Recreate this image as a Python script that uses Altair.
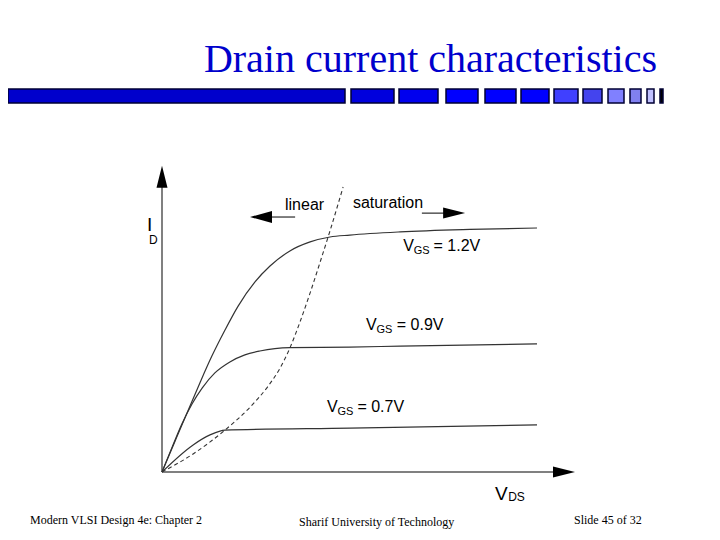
import altair as alt
import pandas as pd

# ---- data (normalized units: V_DS and I_D) ----
vds_12 = [0, 0.035, 0.069, 0.101, 0.133, 0.168, 0.203, 0.248, 0.288, 0.341, 0.395, 0.448, 0.501, 0.635, 0.821, 1.0]
id_12 = [0, 0.127, 0.25, 0.365, 0.475, 0.582, 0.68, 0.779, 0.844, 0.906, 0.943, 0.963, 0.971, 0.984, 0.994, 1.0]
vds_09 = [0, 0.027, 0.053, 0.08, 0.107, 0.141, 0.181, 0.221, 0.261, 0.301, 0.341, 0.501, 0.635, 1.0]
id_09 = [0, 0.102, 0.197, 0.279, 0.344, 0.406, 0.451, 0.48, 0.496, 0.506, 0.51, 0.512, 0.516, 0.525]
vds_07 = [0, 0.083, 0.128, 0.168, 0.501, 1.0]
id_07 = [0, 0.111, 0.152, 0.172, 0.180, 0.193]
vds_sat = [0, 0.083, 0.168, 0.235, 0.283, 0.315, 0.341, 0.368, 0.395, 0.421, 0.448, 0.483]
id_sat = [0, 0.074, 0.172, 0.266, 0.352, 0.426, 0.508, 0.615, 0.734, 0.857, 0.988, 1.168]
curve_names = ["VGS = 1.2V", "VGS = 0.9V", "VGS = 0.7V"]

title_text = "Drain current characteristics"
footer_left = "Modern VLSI Design 4e: Chapter 2"
footer_mid = "Sharif University of Technology"
footer_right = "Slide 45 of 32"

rows = []
for name, xs, ys in zip(curve_names, [vds_12, vds_09, vds_07], [id_12, id_09, id_07]):
    for a, b in zip(xs, ys):
        rows.append({"curve": name, "vds": a, "id": b})
curves_df = pd.DataFrame(rows)
sat_df = pd.DataFrame({"vds": vds_sat, "id": id_sat})

XS = alt.Scale(domain=[0, 1], range=[154, 529])
YS = alt.Scale(domain=[0, 1], range=[464, 220])
one = alt.Data(values=[{}])

def X(v):
    return alt.X(datum=v, scale=XS, axis=None)

def Y(v):
    return alt.Y(datum=v, scale=YS, axis=None)

layers = []

# header bars (page coords minus 8px margin)
bars = [
    (0, 337, "#0000CC"), (343, 386, "#0000DD"), (391, 430, "#0000EE"),
    (438, 470, "#0000FF"), (477, 508, "#0000FF"), (513, 541, "#0000FF"),
    (546, 570, "#4040FF"), (575, 594, "#4444EE"), (600, 616, "#8080FF"),
    (622, 633, "#8080F0"), (639, 646, "#C0C0FF"), (652, 655, "#000000"),
]
for x0, x1, col in bars:
    layers.append(
        alt.Chart(one).mark_rect(color=col, stroke="#000033", strokeWidth=1.5).encode(
            x=alt.value(x0), x2=alt.value(x1), y=alt.value(81), y2=alt.value(95)
        )
    )

# title
layers.append(
    alt.Chart(one).mark_text(
        text=title_text, font="Liberation Serif", fontSize=40, color="#0000CC",
        align="right", baseline="alphabetic"
    ).encode(x=alt.value(649), y=alt.value(64))
)

# footers
for txt, xx, yy in [(footer_left, 22, 516), (footer_mid, 291, 518), (footer_right, 566, 516)]:
    layers.append(
        alt.Chart(one).mark_text(
            text=txt, font="Liberation Serif", fontSize=12, color="#000000",
            align="left", baseline="alphabetic"
        ).encode(x=alt.value(xx), y=alt.value(yy))
    )

# axes (gray lines) with black arrowheads
layers.append(
    alt.Chart(one).mark_rule(color="#808080", strokeWidth=2).encode(
        x=X(0), y=Y(0), y2=alt.Y2(datum=1.23)
    )
)
layers.append(
    alt.Chart(one).mark_rule(color="#808080", strokeWidth=2).encode(
        x=X(0), x2=alt.X2(datum=1.07), y=Y(0)
    )
)
up = "M0,-1L0.5,1L-0.5,1Z"
right = "M1,0L-1,-0.5L-1,0.5Z"
left = "M-1,0L1,-0.55L1,0.55Z"
layers.append(alt.Chart(one).mark_point(shape=up, size=484, filled=True, color="black", opacity=1).encode(x=X(0), y=Y(1.21)))
layers.append(alt.Chart(one).mark_point(shape=right, size=484, filled=True, color="black", opacity=1).encode(x=X(1.072), y=Y(0)))

# linear / saturation arrows
layers.append(
    alt.Chart(one).mark_rule(color="black", strokeWidth=1).encode(
        x=X(0.355), x2=alt.X2(datum=0.27), y=Y(1.045)
    )
)
layers.append(alt.Chart(one).mark_point(shape=left, size=484, filled=True, color="black", opacity=1).encode(x=X(0.264), y=Y(1.045)))
layers.append(
    alt.Chart(one).mark_rule(color="black", strokeWidth=1).encode(
        x=X(0.693), x2=alt.X2(datum=0.77), y=Y(1.061)
    )
)
layers.append(alt.Chart(one).mark_point(shape=right, size=484, filled=True, color="black", opacity=1).encode(x=X(0.779), y=Y(1.061)))

# curves
layers.append(
    alt.Chart(curves_df).mark_line(color="#333333", strokeWidth=1.2, interpolate="monotone").encode(
        x=alt.X("vds:Q", scale=XS, axis=None),
        y=alt.Y("id:Q", scale=YS, axis=None),
        detail="curve:N",
    )
)
layers.append(
    alt.Chart(sat_df).mark_line(color="#333333", strokeWidth=1.1, strokeDash=[4, 3], interpolate="monotone").encode(
        x=alt.X("vds:Q", scale=XS, axis=None),
        y=alt.Y("id:Q", scale=YS, axis=None),
    )
)

SANS = "Liberation Sans"

def label(txt, xv, yv, size):
    return alt.Chart(one).mark_text(
        text=txt, font=SANS, fontSize=size, color="black", align="left", baseline="alphabetic"
    ).encode(x=X(xv), y=Y(yv))

layers.append(label("linear", 0.328, 1.074, 16))
layers.append(label("saturation", 0.509, 1.082, 16))

# V_GS labels: (V x, baseline, GS x, GS baseline, rest x, rest text)
for vx, vy, gx, gy, rx, rest in [
    (0.643, 0.906, 0.671, 0.894, 0.724, "= 1.2V"),
    (0.544, 0.582, 0.572, 0.570, 0.626, "= 0.9V"),
    (0.440, 0.246, 0.468, 0.234, 0.521, "= 0.7V"),
]:
    layers.append(label("V", vx, vy, 16))
    layers.append(label("GS", gx, gy, 11))
    layers.append(label(rest, rx, vy, 16))

# axis labels
layers.append(label("I", -0.04, 0.988, 19))
layers.append(label("D", -0.035, 0.935, 12))
layers.append(label("V", 0.888, -0.115, 19))
layers.append(label("DS", 0.923, -0.12, 12))

chart = alt.layer(*layers).properties(
    width=704, height=524, autosize="none", padding=0
).configure_view(stroke=None)

chart.save("out.html", embed_options={"renderer": "svg", "actions": False})
